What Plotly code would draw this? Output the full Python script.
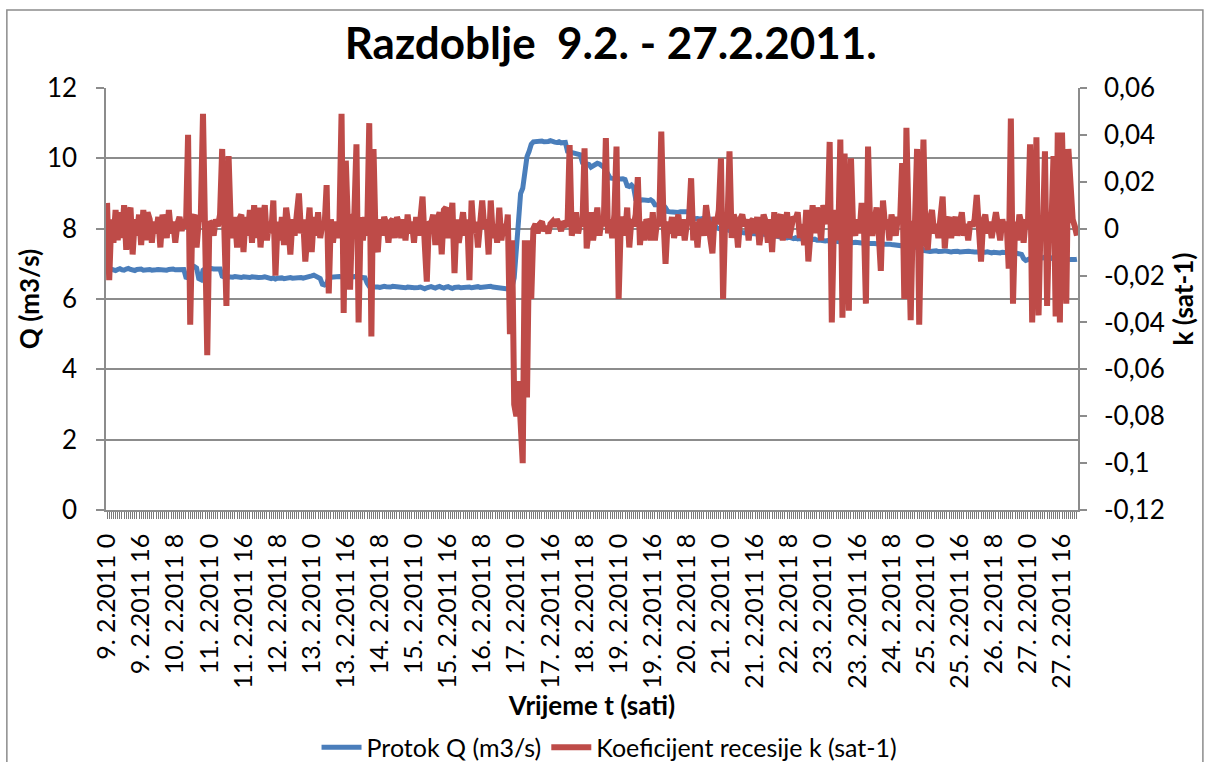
import plotly.graph_objects as go

# ---------------- data ----------------
days = list(range(9, 28))          # 9.2.2011 .. 27.2.2011
hours = list(range(24))
categories = [f"{d}. 2.2011 {h}" for d in days for h in hours]

# Protok Q (m3/s), hourly
q_values = [
    6.80, 6.84, 6.85, 6.83, 6.81, 6.84, 6.86, 6.83, 6.82, 6.85, 6.87, 6.84, 6.82, 6.81, 6.84, 6.86, 6.85, 6.82, 6.83, 6.85, 6.84, 6.82, 6.81, 6.83,
    6.84, 6.83, 6.85, 6.84, 6.82, 6.84, 6.86, 6.85, 6.83, 6.84, 6.85, 6.83, 6.84, 6.62, 6.60, 6.86, 6.90, 6.92, 6.88, 6.58, 6.55, 6.82, 6.86, 6.87,
    6.86, 6.87, 6.85, 6.86, 6.87, 6.85, 6.65, 6.62, 6.60, 6.63, 6.61, 6.62, 6.64, 6.62, 6.60, 6.61, 6.63, 6.62, 6.60, 6.61, 6.63, 6.64, 6.62, 6.61,
    6.60, 6.62, 6.63, 6.61, 6.59, 6.58, 6.60, 6.57, 6.59, 6.61, 6.60, 6.58, 6.60, 6.62, 6.61, 6.59, 6.60, 6.62, 6.63, 6.61, 6.59, 6.60, 6.62, 6.64,
    6.66, 6.68, 6.65, 6.62, 6.58, 6.42, 6.40, 6.44, 6.60, 6.62, 6.63, 6.61, 6.62, 6.64, 6.63, 6.61, 6.62, 6.63, 6.61, 6.62, 6.64, 6.63, 6.62, 6.61,
    6.62, 6.60, 6.45, 6.36, 6.34, 6.35, 6.36, 6.34, 6.33, 6.35, 6.36, 6.35, 6.33, 6.34, 6.36, 6.35, 6.34, 6.33, 6.35, 6.34, 6.32, 6.34, 6.35, 6.33,
    6.32, 6.31, 6.33, 6.34, 6.30, 6.29, 6.32, 6.34, 6.35, 6.33, 6.31, 6.34, 6.36, 6.33, 6.31, 6.34, 6.35, 6.32, 6.30, 6.33, 6.35, 6.34, 6.32, 6.33,
    6.33, 6.35, 6.34, 6.32, 6.34, 6.36, 6.35, 6.33, 6.34, 6.36, 6.37, 6.38, 6.36, 6.34, 6.33, 6.35, 6.34, 6.33, 6.32, 6.30, 6.30, 6.28, 6.35, 6.60,
    7.40, 8.30, 9.00, 9.15, 9.70, 10.05, 10.20, 10.40, 10.47, 10.48, 10.46, 10.47, 10.49, 10.47, 10.46, 10.48, 10.50, 10.47, 10.46, 10.45, 10.47, 10.44, 10.46, 10.45,
    10.20, 10.18, 10.19, 10.16, 10.15, 10.13, 10.10, 9.88, 9.86, 9.85, 9.83, 9.75, 9.78, 9.84, 9.86, 9.84, 9.80, 9.75, 9.65, 9.50, 9.44, 9.43, 9.42, 9.44,
    9.43, 9.41, 9.42, 9.40, 9.22, 9.20, 9.24, 9.18, 8.84, 8.81, 8.80, 8.82, 8.81, 8.79, 8.80, 8.82, 8.78, 8.68, 8.67, 8.66, 8.68, 8.67, 8.60, 8.49,
    8.48, 8.47, 8.49, 8.48, 8.46, 8.48, 8.49, 8.47, 8.48, 8.45, 8.30, 8.28, 8.30, 8.29, 8.27, 8.28, 8.30, 8.26, 8.25, 8.27, 8.20, 8.10, 8.02, 8.00,
    7.98, 7.97, 7.99, 7.96, 7.95, 7.93, 7.94, 7.92, 7.90, 7.91, 7.89, 7.88, 7.90, 7.87, 7.86, 7.88, 7.87, 7.85, 7.86, 7.84, 7.85, 7.83, 7.82, 7.80,
    7.80, 7.78, 7.79, 7.77, 7.76, 7.78, 7.75, 7.74, 7.76, 7.73, 7.72, 7.74, 7.71, 7.72, 7.70, 7.71, 7.69, 7.70, 7.68, 7.69, 7.70, 7.67, 7.68, 7.66,
    7.67, 7.65, 7.66, 7.64, 7.66, 7.65, 7.63, 7.64, 7.62, 7.64, 7.63, 7.61, 7.62, 7.63, 7.60, 7.61, 7.62, 7.60, 7.59, 7.61, 7.60, 7.58, 7.59, 7.60,
    7.58, 7.57, 7.59, 7.58, 7.56, 7.57, 7.58, 7.56, 7.55, 7.54, 7.55, 7.52, 7.50, 7.49, 7.50, 7.48, 7.49, 7.50, 7.48, 7.47, 7.49, 7.48, 7.46, 7.38,
    7.36, 7.37, 7.35, 7.36, 7.38, 7.37, 7.35, 7.34, 7.36, 7.37, 7.35, 7.36, 7.34, 7.35, 7.37, 7.36, 7.34, 7.35, 7.33, 7.34, 7.36, 7.35, 7.33, 7.34,
    7.34, 7.33, 7.35, 7.32, 7.33, 7.34, 7.32, 7.31, 7.33, 7.32, 7.30, 7.31, 7.33, 7.32, 7.30, 7.31, 7.29, 7.30, 7.31, 7.29, 7.28, 7.27, 7.15, 7.10,
    7.12, 7.15, 7.18, 7.20, 7.19, 7.18, 7.20, 7.17, 7.19, 7.20, 7.18, 7.16, 7.19, 7.17, 7.15, 7.18, 7.16, 7.14, 7.15, 7.13, 7.12, 7.11, 7.12, 7.13,
]

# Koeficijent recesije k (sat-1), hourly
k_values = [
    0.011, -0.022, 0.004, -0.006, 0.008, -0.005, 0.007, -0.004, 0.010, -0.009, 0.006, 0.009, -0.011, 0.004, -0.003, 0.006, -0.007, 0.008, -0.005, 0.007, 0.004, -0.006, 0.003, -0.002,
    0.005, -0.008, 0.006, 0.002, -0.004, 0.008, -0.002, 0.003, -0.006, 0.002, 0.005, -0.001, 0.004, 0.000, 0.040, -0.041, 0.004, 0.006, -0.008, 0.003, 0.006, 0.049, -0.010, -0.054,
    0.003, 0.002, -0.003, 0.004, 0.001, 0.006, 0.034, -0.008, -0.033, 0.031, 0.002, -0.004, 0.005, -0.008, 0.004, 0.006, -0.010, 0.005, -0.003, 0.008, -0.006, 0.010, -0.004, 0.009,
    -0.008, 0.004, 0.010, -0.005, 0.003, -0.002, 0.012, -0.020, 0.003, -0.005, 0.005, -0.007, 0.009, 0.002, -0.011, 0.004, -0.003, 0.006, 0.015, -0.002, 0.004, -0.014, 0.002, 0.009,
    -0.010, 0.005, -0.003, 0.007, -0.004, 0.002, 0.000, 0.0186, -0.0276, 0.004, -0.006, 0.003, -0.004, 0.002, 0.049, -0.036, 0.029, -0.004, -0.026, 0.005, 0.006, 0.036, -0.040, 0.005,
    -0.005, 0.005, -0.003, 0.045, -0.046, 0.034, -0.005, -0.010, 0.004, -0.003, 0.005, 0.002, -0.006, 0.003, 0.004, -0.004, 0.005, 0.002, -0.004, 0.004, -0.005, 0.006, -0.002, 0.003,
    -0.006, 0.005, -0.003, 0.004, 0.0137, -0.006, -0.0226, 0.003, 0.002, 0.006, -0.007, 0.004, 0.007, -0.011, 0.008, 0.009, -0.004, 0.002, 0.011, -0.019, 0.004, -0.006, 0.001, 0.007,
    -0.003, 0.004, -0.022, 0.012, -0.002, 0.003, -0.008, 0.002, 0.012, 0.000, 0.004, -0.011, 0.012, -0.004, 0.002, -0.006, 0.009, -0.005, 0.002, -0.003, 0.006, -0.045, -0.005, -0.075,
    -0.080, -0.065, -0.090, -0.100, -0.005, -0.072, -0.005, -0.030, 0.000, 0.002, -0.002, 0.002, 0.003, -0.001, 0.001, -0.002, 0.002, 0.003, 0.001, 0.004, 0.002, -0.001, 0.003, 0.002,
    0.001, 0.0357, -0.003, 0.002, 0.007, -0.002, 0.003, 0.001, 0.0343, -0.0084, 0.003, 0.007, -0.005, 0.002, 0.009, -0.003, 0.004, 0.001, 0.0386, -0.002, 0.004, -0.004, 0.006, 0.035,
    -0.030, 0.002, 0.005, -0.003, 0.009, -0.008, 0.004, 0.001, 0.006, 0.022, -0.007, 0.003, -0.005, 0.004, 0.002, -0.005, 0.007, -0.005, 0.003, 0.001, 0.0414, 0.005, -0.015, 0.003,
    -0.002, 0.005, -0.004, 0.001, 0.006, -0.003, 0.004, -0.005, 0.002, 0.004, 0.0215, -0.005, 0.003, -0.008, 0.004, 0.002, -0.003, 0.010, 0.001, -0.004, -0.0105, 0.005, 0.002, 0.008,
    0.030, -0.030, 0.005, 0.000, 0.033, -0.004, 0.006, 0.003, -0.008, 0.004, 0.006, 0.001, 0.004, -0.005, 0.003, 0.004, -0.002, 0.005, -0.007, 0.002, 0.006, 0.003, -0.006, 0.004,
    -0.010, 0.007, -0.004, 0.004, 0.006, -0.005, 0.003, 0.007, -0.004, 0.002, 0.005, 0.004, 0.007, -0.004, 0.002, -0.007, 0.008, -0.014, 0.004, 0.010, -0.002, 0.009, 0.003, -0.005,
    0.010, 0.004, 0.002, 0.037, -0.040, 0.002, 0.008, -0.005, 0.038, -0.038, 0.032, 0.000, -0.035, 0.030, 0.000, -0.003, 0.004, -0.002, 0.011, 0.004, -0.032, 0.035, 0.001, -0.003,
    0.003, 0.009, -0.002, -0.018, 0.012, 0.001, 0.004, -0.005, 0.006, 0.002, -0.003, 0.005, 0.002, 0.028, -0.030, 0.043, 0.000, -0.039, 0.003, 0.002, 0.034, -0.041, 0.005, 0.038,
    -0.005, -0.009, 0.004, 0.008, -0.002, 0.002, -0.004, 0.003, 0.0137, -0.0084, 0.003, 0.005, -0.004, 0.002, 0.005, -0.003, 0.004, 0.007, -0.003, 0.002, -0.005, 0.003, 0.001, 0.004,
    0.0144, 0.000, -0.014, 0.003, 0.006, -0.002, 0.003, -0.004, 0.002, 0.007, 0.001, -0.005, 0.004, -0.001, 0.003, -0.017, 0.047, -0.032, 0.003, -0.005, 0.006, 0.002, -0.006, 0.004,
    0.001, 0.036, -0.040, 0.002, 0.039, -0.037, 0.005, -0.004, 0.033, -0.033, 0.005, 0.000, 0.031, -0.0375, 0.041, -0.040, 0.041, 0.002, -0.032, 0.034, 0.012, 0.004, 0.001, -0.003,
]

q_ticks = [0, 2, 4, 6, 8, 10, 12]
k_ticks = [-0.12, -0.10, -0.08, -0.06, -0.04, -0.02, 0.0, 0.02, 0.04, 0.06]
k_tick_text = ["-0,12", "-0,1", "-0,08", "-0,06", "-0,04", "-0,02", "0", "0,02", "0,04", "0,06"]
label_step = 16
x_tick_text = [c if i % label_step == 0 else "" for i, c in enumerate(categories)]

title_text = "Razdoblje\u00a0 9.2. - 27.2.2011."
q_name = "Protok Q (m3/s)"
k_name = "Koeficijent recesije k (sat-1)"

# ---------------- style ----------------
FONT = "Lato"
GRID = "#8c8c8c"
TICK = "#7a7a7a"
BLUE = "#4a7ebb"
RED = "#be4b48"

fig = go.Figure()
fig.add_trace(go.Scatter(x=categories, y=q_values, name=q_name, mode="lines",
                         line=dict(color=BLUE, width=5), yaxis="y"))
fig.add_trace(go.Scatter(x=categories, y=k_values, name=k_name, mode="lines",
                         line=dict(color=RED, width=6), yaxis="y2"))

fig.update_layout(
    width=1207, height=762,
    margin=dict(l=106, r=129, t=88, b=252, autoexpand=False),
    paper_bgcolor="white", plot_bgcolor="white",
    font=dict(family=FONT, size=24, color="black"),
    title=dict(text=title_text, x=0.506, xanchor="center", y=0.943, yref="container",
               yanchor="middle", automargin=False,
               font=dict(family=FONT, size=44, color="black", weight="bold")),
    showlegend=True,
    legend=dict(orientation="h", x=0.505, xanchor="center", xref="container",
                y=0.019, yref="container", yanchor="middle",
                font=dict(family=FONT, size=25), itemwidth=40, traceorder="normal"),
    xaxis=dict(type="category", range=[-0.5, len(categories) - 0.5], automargin=False,
               tickmode="array", tickvals=categories, ticktext=x_tick_text,
               tickangle=-90, ticks="outside", ticklen=7, tickwidth=1, tickcolor=TICK,
               showline=True, linecolor=GRID, linewidth=1.5, showgrid=False,
               tickfont=dict(family=FONT, size=25), ticklabelstandoff=5,
               title=dict(text="Vrijeme t (sati)", standoff=7,
                          font=dict(family=FONT, size=26, weight="bold"))),
    yaxis=dict(range=[0, 12], tickmode="array", tickvals=q_ticks, automargin=False,
               showgrid=True, gridcolor=GRID, gridwidth=1.5, zeroline=False,
               showline=True, linecolor=GRID, linewidth=1.5,
               ticks="outside", ticklen=8, tickcolor=GRID, tickwidth=1.5,
               tickfont=dict(family=FONT, size=26), ticklabelstandoff=14,
               title=dict(text="Q (m3/s)", standoff=0,
                          font=dict(family=FONT, size=26, weight="bold"))),
    yaxis2=dict(range=[-0.12, 0.06], overlaying="y", side="right", automargin=False,
                tickmode="array", tickvals=k_ticks, ticktext=k_tick_text,
                showgrid=False, zeroline=False,
                showline=True, linecolor=GRID, linewidth=1.5,
                ticks="outside", ticklen=7, tickcolor=GRID, tickwidth=1.5,
                tickfont=dict(family=FONT, size=26), ticklabelstandoff=12,
                title=dict(text="k (sat-1)", standoff=11,
                           font=dict(family=FONT, size=26, weight="bold"))),
)

# chart border (Excel chart area frame)
fig.add_shape(type="rect", xref="paper", yref="paper",
              x0=-0.102, x1=1.1285, y0=-0.65, y1=1.185,
              line=dict(color="#8c8c8c", width=1.5), fillcolor="rgba(0,0,0,0)", layer="below")

fig.write_html("out.html", config={"displayModeBar": False},
               post_script="document.body.style.margin='0';document.body.style.overflow='hidden';")
